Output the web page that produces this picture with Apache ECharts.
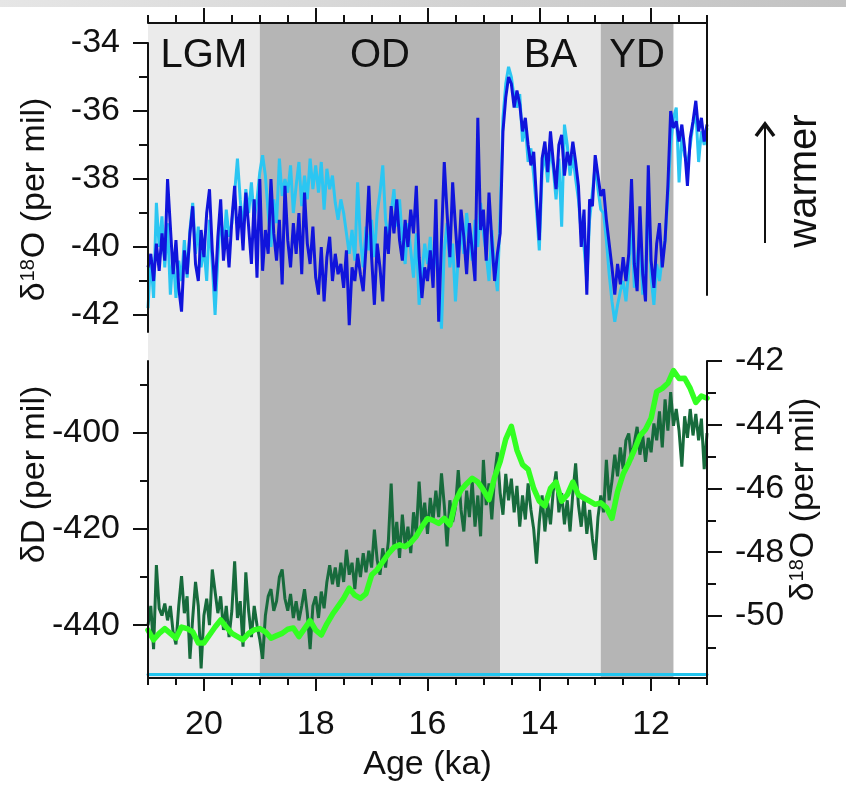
<!DOCTYPE html>
<html>
<head>
<meta charset="utf-8">
<script src="https://cdn.jsdelivr.net/npm/echarts@6/dist/echarts.min.js"></script>
<style>
  html, body { margin: 0; padding: 0; background: #ffffff; }
  #chart { width: 846px; height: 788px; }
</style>
</head>
<body>
<div id="chart"></div>
<script>
// Sampling of the records: oldest age and step between samples (ka)
const AGE_START = 21;
const STEP_FINE = 0.05;   // Greenland d18O and Antarctic dD
const STEP_COARSE = 0.1;  // Antarctic d18O

// Greenland d18O, core A (light blue), per mil, 21.00 -> 11.00 ka every 0.05 ka
const greenlandCoreA = [
  -41.8, -40.3, -41.5, -38.7, -40.0, -39.1, -40.6, -39.3, -41.4, -40.2,
  -41.5, -40.4, -41.0, -39.8, -40.9, -39.5, -38.7, -40.2, -39.4, -40.6,
  -40.0, -41.0, -39.2, -40.5, -42.0, -40.3, -39.0, -40.1, -38.9, -39.7,
  -39.3, -38.4, -37.4, -38.6, -39.5, -38.3, -39.0, -38.1, -39.2, -38.6,
  -37.8, -37.3, -37.9, -39.0, -40.0, -38.6, -39.3, -37.4, -38.5, -38.0,
  -38.4, -37.6, -39.0, -38.2, -37.5, -38.8, -37.9, -38.6, -37.4, -38.3,
  -37.6, -38.4, -37.5, -38.9, -37.7, -38.3, -37.9, -38.7, -39.2, -38.6,
  -39.0, -39.6, -40.2, -39.5, -40.4, -38.1, -39.8, -40.6, -39.4, -40.1,
  -39.2, -40.3, -39.0, -38.4, -37.6, -39.2, -39.8, -39.0, -38.3, -39.4,
  -38.6, -39.8, -40.5, -39.3, -40.1, -40.9, -39.6, -41.7, -40.8, -39.9,
  -40.5, -39.7, -40.9, -39.8, -41.2, -42.4, -40.1, -39.3, -40.6, -39.9,
  -41.6, -40.3, -39.5, -40.2, -39.0, -39.8, -40.4, -39.2, -40.0, -38.7,
  -39.6, -40.2, -41.0, -39.5, -40.6, -41.3, -39.0, -36.2, -35.2, -34.7,
  -35.0, -35.6, -35.9, -35.5, -36.9, -36.4, -37.5, -37.1, -37.9, -38.9,
  -40.1, -37.8, -37.2, -38.1, -37.0, -37.7, -38.6, -37.4, -39.4, -36.4,
  -37.0, -37.9, -37.3, -38.0, -38.6, -39.6, -40.0, -41.0, -39.2, -38.4,
  -37.6, -38.3, -38.9, -39.0, -39.8, -40.8, -41.6, -42.2, -41.7, -41.3,
  -41.0, -41.6, -40.7, -39.0, -41.2, -40.4, -39.5, -41.4, -40.8, -38.2,
  -40.9, -41.7, -40.5, -41.0, -40.3, -39.8, -38.5, -37.0, -36.2, -35.9,
  -38.1, -36.7, -37.3, -37.6, -37.0, -36.4, -36.0, -37.5, -36.6, -37.0, -36.5
];

// Greenland d18O, core B (dark blue), per mil, 21.00 -> 11.00 ka every 0.05 ka
const greenlandCoreB = [
  -40.6, -40.2, -41.0, -39.9, -40.7, -39.6, -40.4, -38.0, -39.4, -40.8,
  -39.8, -41.2, -41.9, -40.1, -40.8, -39.6, -38.8, -40.5, -41.0, -39.5,
  -40.3, -39.0, -38.3, -40.1, -41.3, -39.7, -38.6, -40.4, -39.5, -40.6,
  -39.2, -38.2, -39.8, -38.8, -40.1, -38.4, -39.4, -40.5, -38.6, -40.9,
  -38.0, -40.7, -39.5, -40.2, -38.0, -39.6, -40.4, -39.2, -41.1, -38.2,
  -39.8, -40.6, -39.3, -40.2, -39.0, -40.8, -38.4, -39.9, -40.5, -39.4,
  -40.9, -41.4, -40.0, -41.6, -40.3, -39.7, -41.0, -40.2, -40.8, -40.5,
  -41.2, -40.1, -42.3, -40.6, -41.0, -40.2, -40.8, -41.3, -40.0, -38.2,
  -40.3, -41.7, -39.9, -40.6, -41.6, -39.4, -40.2, -38.8, -39.6, -38.6,
  -39.8, -40.4, -39.2, -40.0, -38.9, -39.6, -38.2, -40.3, -41.5, -40.6,
  -41.0, -40.1, -41.2, -38.6, -42.2, -39.8, -37.5, -39.0, -40.3, -38.1,
  -39.4, -40.6, -38.9, -39.7, -40.8, -39.3, -40.1, -41.0, -36.2, -39.5,
  -38.9, -40.4, -38.4, -39.8, -41.0, -40.2, -39.6, -36.6, -35.6, -35.0,
  -35.2, -35.9, -35.4, -35.8, -36.6, -36.2, -37.0, -37.6, -37.2, -38.6,
  -39.8, -37.4, -36.9, -37.8, -36.6, -37.5, -38.3, -37.0, -36.7, -37.9,
  -37.2, -37.6, -36.9, -37.5, -38.2, -40.0, -38.9, -41.4, -38.6, -38.8,
  -37.3, -37.9, -38.5, -38.3, -39.2, -39.9, -40.6, -41.4, -40.5, -41.1,
  -40.3, -41.0, -40.2, -38.0, -40.5, -41.3, -38.8, -40.8, -41.6, -37.6,
  -40.4, -41.2, -39.9, -39.3, -40.6, -39.8, -38.2, -36.0, -36.5, -36.3,
  -36.9, -36.4, -37.1, -38.2, -36.8, -36.3, -35.7, -36.6, -36.2, -36.9, -36.4
];

// Antarctic dD (dark green), per mil, 21.00 -> 11.00 ka every 0.05 ka
const antarcticDD = [
  -440.0, -436.0, -445.0, -427.5, -436.5, -438.0, -435.5, -439.0, -436.0, -441.5,
  -444.0, -436.0, -429.8, -437.5, -434.0, -447.0, -438.5, -431.0, -436.0, -449.0,
  -438.0, -434.5, -440.0, -428.4, -433.0, -437.5, -434.0, -441.0, -436.0, -442.5,
  -437.0, -426.7, -438.5, -435.0, -444.5, -429.0, -437.0, -442.5, -436.0, -440.0,
  -443.0, -447.0, -438.0, -434.0, -432.5, -437.0, -435.0, -430.0, -428.4, -434.5,
  -437.0, -433.5, -438.5, -435.0, -439.0, -436.0, -432.5, -437.5, -445.0, -436.0,
  -434.0, -438.5, -433.0, -436.5, -431.0, -427.5, -431.5, -428.0, -432.0, -427.0,
  -431.0, -424.3, -429.5, -427.0, -432.5, -426.0, -430.0, -425.0, -429.0, -424.5,
  -428.0, -420.1, -426.5, -429.5, -424.0, -428.0, -422.5, -410.5, -424.0, -418.5,
  -426.0, -417.0, -423.5, -419.5, -425.0, -416.5, -421.0, -410.1, -419.0, -414.5,
  -421.0, -413.5, -418.0, -412.0, -417.5, -408.4, -415.0, -423.6, -414.0, -418.5,
  -415.5, -407.7, -416.0, -420.5, -412.0, -417.5, -410.0, -419.5, -413.0, -421.5,
  -405.6, -415.0, -410.5, -418.0, -409.0, -404.0, -412.5, -417.0, -408.5, -414.0,
  -409.5, -416.5, -411.0, -419.5, -413.0, -418.0, -410.5, -416.0, -420.0, -427.2,
  -418.5, -413.0, -420.5, -414.5, -419.0, -412.0, -408.0, -416.5, -412.5, -419.0,
  -414.0, -420.5, -412.5, -406.3, -415.0, -419.5, -413.5, -421.0, -416.0, -422.0,
  -426.4, -417.5, -413.0, -416.5, -405.6, -414.0, -410.0, -404.5, -409.0, -403.0,
  -407.5, -401.5, -400.1, -405.5, -402.0, -398.7, -404.5, -400.5, -406.0, -401.0,
  -404.0, -398.0, -401.5, -395.5, -403.0, -393.0, -399.5, -391.5, -398.5, -395.0,
  -399.5, -407.0, -396.5, -401.0, -395.0, -400.5, -396.0, -401.5, -397.0, -407.5, -400.0
];

// Antarctic d18O (bright green), per mil, 21.0 -> 11.0 ka every 0.1 ka
const antarcticD18O = [
  -50.45, -50.75, -50.55, -50.40, -50.55, -50.70, -50.35, -50.40, -50.50, -50.85, -50.85,
  -50.60, -50.35, -50.13, -50.35, -50.55, -50.65, -50.75, -50.55, -50.44, -50.40,
  -50.50, -50.70, -50.62, -50.55, -50.42, -50.38, -50.65, -50.40, -50.15, -50.45,
  -50.60, -50.25, -49.95, -49.70, -49.45, -49.13, -49.35, -49.45, -49.30, -48.72,
  -48.55, -48.30, -48.05, -47.85, -47.77, -47.83, -47.70, -47.50, -47.20, -46.95,
  -47.00, -47.10, -46.94, -47.15, -46.40, -46.05, -45.85, -45.68, -45.80, -46.05,
  -46.35, -45.65, -45.16, -44.45, -44.05, -44.80, -45.25, -45.40, -46.00, -46.40,
  -46.55, -46.00, -45.80, -46.40, -46.20, -45.80, -46.20, -46.30, -46.40, -46.50,
  -46.45, -46.60, -46.94, -46.10, -45.55, -45.20, -44.80, -44.35, -44.15, -43.80,
  -42.96, -42.86, -42.70, -42.30, -42.55, -42.54, -42.86, -43.30, -43.10, -43.17
];

// Climate periods (ka)
const periods = [
  { name: 'LGM', from: 21.0, to: 19.0, tone: 'light' },
  { name: 'OD',  from: 19.0, to: 14.7, tone: 'dark' },
  { name: 'BA',  from: 14.7, to: 12.9, tone: 'light' },
  { name: 'YD',  from: 12.9, to: 11.6, tone: 'dark' }
];

// Tick positions
const ageMajorTicks = [20, 18, 16, 14, 12];
const ageMinorTicks = [21, 20.5, 19.5, 19, 18.5, 17.5, 17, 16.5, 15.5, 15, 14.5, 13.5, 13, 12.5, 11.5, 11];
const greenlandMajorTicks = [-42, -40, -38, -36, -34];
const greenlandMinorTicks = [-41, -39, -37, -35];
const ddMajorTicks = [-440, -420, -400];
const ddMinorTicks = [-430, -410, -390];
const antD18OMajorTicks = [-50, -48, -46, -44, -42];
const antD18OMinorTicks = [-51, -49, -47, -45, -43];

const FONT = '"Liberation Sans", Arial, Helvetica, sans-serif';
const INK = '#111111';
const SHADE = { light: '#ebebeb', dark: '#b5b5b5' };

function withAges(values, step) {
  return values.map((v, i) => [+(AGE_START - i * step).toFixed(2), v]);
}

const GRID_LR = { left: 148, right: 139 };

function ageAxis(gridIndex, extra) {
  return Object.assign({
    type: 'value', gridIndex: gridIndex, min: 11, max: 21, inverse: true,
    axisLine: { show: false, onZero: false },
    axisTick: { show: false }, axisLabel: { show: false },
    splitLine: { show: false }, z: 5
  }, extra);
}

function valueAxis(gridIndex, min, max, extra) {
  return Object.assign({
    type: 'value', gridIndex: gridIndex, min: min, max: max,
    axisLine: { show: false, onZero: false },
    axisTick: { show: false }, axisLabel: { show: false },
    splitLine: { show: false }, z: 5
  }, extra);
}

const axisLineStyle = { color: INK, width: 2 };
const labelStyle = { fontSize: 34, color: INK, fontFamily: FONT };

const d18OName = '{n|δ}{s|18}{n|O (per mil)}';
const d18ORich = {
  n: { fontSize: 34, fontFamily: FONT, color: INK },
  s: { fontSize: 20, fontFamily: FONT, color: INK, verticalAlign: 'top', padding: [0, 1, 14, 1] }
};

const chart = echarts.init(document.getElementById('chart'), null, { renderer: 'canvas' });

chart.setOption({
  animation: false,
  backgroundColor: '#ffffff',
  textStyle: { fontFamily: FONT },
  grid: [
    Object.assign({ top: 23, bottom: 110 }, GRID_LR),   // frame with period shading
    Object.assign({ top: 43, height: 289 }, GRID_LR),   // Greenland d18O
    Object.assign({ top: 23, height: 272 }, GRID_LR),   // right edge of the upper panel
    Object.assign({ top: 361, height: 317 }, GRID_LR)   // Antarctic dD and d18O
  ],
  xAxis: [
    ageAxis(0, {
      position: 'top',
      axisLine: { show: true, onZero: false, lineStyle: axisLineStyle },
      axisTick: { show: true, customValues: ageMajorTicks, length: 15, lineStyle: axisLineStyle }
    }),
    ageAxis(0, {
      position: 'top',
      axisTick: { show: true, customValues: ageMinorTicks, length: 8, lineStyle: axisLineStyle }
    }),
    ageAxis(0, {
      position: 'bottom',
      name: 'Age (ka)', nameLocation: 'middle', nameGap: 70, nameMoveOverlap: false,
      nameTextStyle: { fontSize: 34, color: INK, fontFamily: FONT },
      axisLine: { show: true, onZero: false, lineStyle: axisLineStyle },
      axisTick: { show: true, customValues: ageMajorTicks, length: 13, lineStyle: axisLineStyle },
      axisLabel: Object.assign({ show: true, customValues: ageMajorTicks, margin: 30 }, labelStyle)
    }),
    ageAxis(0, {
      position: 'bottom',
      axisTick: { show: true, customValues: ageMinorTicks, length: 7, lineStyle: axisLineStyle }
    }),
    ageAxis(1, { position: 'bottom' }),
    ageAxis(2, { position: 'bottom' }),
    ageAxis(3, {
      position: 'bottom', offset: -4, z: 4,
      axisLine: { show: true, onZero: false, lineStyle: { color: '#22c4ee', width: 3 } }
    })
  ],
  yAxis: [
    valueAxis(0, 0, 1, { show: false }),
    valueAxis(1, -42.5, -34, {
      position: 'left',
      name: d18OName, nameLocation: 'middle', nameRotate: 90, nameGap: 96, nameMoveOverlap: false,
      nameTextStyle: { rich: d18ORich, padding: [0, 24, 0, 0] },
      axisLine: { show: true, onZero: false, lineStyle: axisLineStyle },
      axisTick: { show: true, customValues: greenlandMajorTicks, length: 15, lineStyle: axisLineStyle },
      axisLabel: Object.assign({ show: true, customValues: greenlandMajorTicks, margin: 28 }, labelStyle)
    }),
    valueAxis(1, -42.5, -34, {
      position: 'left',
      axisTick: { show: true, customValues: greenlandMinorTicks, length: 9, lineStyle: axisLineStyle }
    }),
    valueAxis(2, 0, 1, {
      position: 'right',
      axisLine: { show: true, onZero: false, lineStyle: axisLineStyle }
    }),
    valueAxis(3, -451, -385, {
      position: 'left',
      name: 'δD (per mil)', nameLocation: 'middle', nameRotate: 90, nameGap: 96, nameMoveOverlap: false,
      nameTextStyle: { fontSize: 34, color: INK, fontFamily: FONT, padding: [0, 0, 0, 90] },
      axisLine: { show: true, onZero: false, lineStyle: axisLineStyle },
      axisTick: { show: true, customValues: ddMajorTicks, length: 15, lineStyle: axisLineStyle },
      axisLabel: Object.assign({ show: true, customValues: ddMajorTicks, margin: 28 }, labelStyle)
    }),
    valueAxis(3, -451, -385, {
      position: 'left',
      axisTick: { show: true, customValues: ddMinorTicks, length: 8, lineStyle: axisLineStyle }
    }),
    valueAxis(3, -51.95, -42, {
      position: 'right',
      name: d18OName, nameLocation: 'middle', nameRotate: 90, nameGap: 80, nameMoveOverlap: false,
      nameTextStyle: { rich: d18ORich, padding: [0, 0, 0, 40] },
      axisLine: { show: true, onZero: false, lineStyle: axisLineStyle },
      axisTick: { show: true, customValues: antD18OMajorTicks, length: 15, lineStyle: axisLineStyle },
      axisLabel: Object.assign({ show: true, customValues: antD18OMajorTicks, margin: 28 }, labelStyle)
    }),
    valueAxis(3, -51.95, -42, {
      position: 'right',
      axisTick: { show: true, customValues: antD18OMinorTicks, length: 9, lineStyle: axisLineStyle }
    })
  ],
  series: [
    {
      name: 'periods', type: 'line', xAxisIndex: 0, yAxisIndex: 0, data: [], z: 0, silent: true,
      markArea: {
        silent: true,
        label: { show: true, position: 'insideTop', distance: 13, fontSize: 40, color: INK, fontFamily: FONT },
        data: periods.map(p => [
          { name: p.name, xAxis: p.from, itemStyle: { color: SHADE[p.tone] } },
          { xAxis: p.to }
        ])
      }
    },
    {
      name: 'Greenland core A', type: 'line', xAxisIndex: 4, yAxisIndex: 1,
      data: withAges(greenlandCoreA, STEP_FINE), showSymbol: false, z: 2,
      lineStyle: { color: '#2bc6f2', width: 3 }
    },
    {
      name: 'Greenland core B', type: 'line', xAxisIndex: 4, yAxisIndex: 1,
      data: withAges(greenlandCoreB, STEP_FINE), showSymbol: false, z: 3,
      lineStyle: { color: '#1014dc', width: 3 }
    },
    {
      name: 'Antarctic dD', type: 'line', xAxisIndex: 6, yAxisIndex: 4,
      data: withAges(antarcticDD, STEP_FINE), showSymbol: false, z: 2,
      lineStyle: { color: '#176b3c', width: 3 }
    },
    {
      name: 'Antarctic d18O', type: 'line', xAxisIndex: 6, yAxisIndex: 6,
      data: withAges(antarcticD18O, STEP_COARSE), showSymbol: false, z: 3,
      lineStyle: { color: '#33ff22', width: 5.5, join: 'round', cap: 'round' }
    }
  ],
  graphic: [
    {
      type: 'rect', shape: { x: 0, y: 0, width: 846, height: 7 }, silent: true,
      style: {
        fill: new echarts.graphic.LinearGradient(0, 0, 1, 0, [
          { offset: 0, color: '#e6e6e6' }, { offset: 1, color: '#c2c2c2' }
        ])
      }
    },
    {
      type: 'text', x: 517, y: 389, silent: true,
      style: { text: 'ACR', fontSize: 40, fontFamily: FONT, fill: INK }
    },
    {
      type: 'text', x: 805, y: 181, rotation: Math.PI / 2, silent: true,
      style: { text: 'warmer', fontSize: 40, fontFamily: FONT, fill: INK, align: 'center', verticalAlign: 'middle' }
    },
    {
      type: 'line', silent: true,
      shape: { x1: 765, y1: 243, x2: 765, y2: 125 },
      style: { stroke: INK, lineWidth: 2 }
    },
    {
      type: 'polyline', silent: true,
      shape: { points: [[756, 136], [765, 124], [774, 136]] },
      style: { stroke: INK, lineWidth: 3.5, fill: null }
    }
  ]
});
</script>
</body>
</html>
